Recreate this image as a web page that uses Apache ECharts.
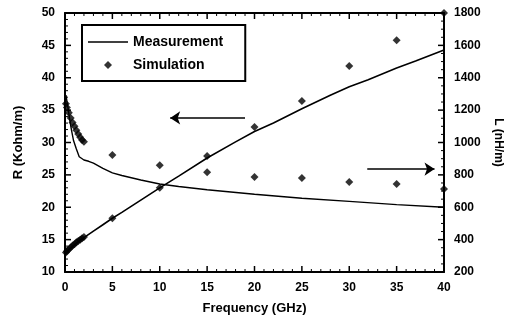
<!DOCTYPE html>
<html>
<head>
<meta charset="utf-8">
<script src="https://cdn.jsdelivr.net/npm/echarts@6/dist/echarts.min.js"></script>
<style>
  html, body { margin: 0; padding: 0; background: #fff; }
  #chart { width: 522px; height: 320px; }
</style>
</head>
<body>
<div id="chart"></div>
<script>
// Measurement, R (left axis, Kohm/m)
const measRFreq = [0, 0.1, 0.3, 0.5, 1, 1.5, 2, 3, 4, 5, 6, 8, 10, 12, 15, 18, 20, 22, 25, 28, 30, 32, 35, 37, 40]
const measR = [12.5, 12.9, 13.3, 13.6, 14.2, 14.8, 15.3, 16.3, 17.3, 18.3, 19.2, 21.1, 23.0, 24.8, 27.6, 30.1, 31.7, 33.0, 35.2, 37.3, 38.6, 39.7, 41.5, 42.6, 44.3]

// Measurement, L (right axis, nH/m)
const measLFreq = [0, 0.1, 0.3, 0.5, 0.7, 0.9, 1.2, 1.5, 2, 2.5, 3, 4, 5, 6, 8, 10, 12, 15, 20, 25, 30, 35, 40]
const measL = [1260, 1292, 1220, 1140, 1072, 1012, 960, 912, 892, 884, 872, 840, 812, 796, 768, 744, 728, 708, 680, 656, 636, 616, 600]

// Simulation, R (left axis)
const simRFreq = [0.1, 0.2, 0.4, 0.6, 0.8, 1.0, 1.2, 1.4, 1.6, 1.8, 2.0, 5, 10, 15, 20, 25, 30, 35, 40]
const simR = [13.0, 13.2, 13.5, 13.8, 14.1, 14.3, 14.6, 14.8, 15.0, 15.2, 15.4, 18.3, 23.0, 27.9, 32.4, 36.4, 41.8, 45.8, 50.0]

// Simulation, L (right axis)
const simLFreq = [0.1, 0.2, 0.4, 0.6, 0.8, 1.0, 1.2, 1.4, 1.6, 1.8, 2.0, 5, 10, 15, 20, 25, 30, 35, 40]
const simL = [1240, 1216, 1184, 1152, 1124, 1100, 1076, 1052, 1032, 1016, 1004, 923, 860, 816, 787, 780, 756, 744, 713]

// arrows pointing to the axis each curve belongs to, in [GHz, R] coords
const arrowLeft = [[19.0, 33.8], [11.1, 33.8]]
const arrowRight = [[31.9, 25.9], [39.0, 25.9]]

const xTicks = { min: 0, max: 40, interval: 5, minor: 5 }
const rTicks = { min: 10, max: 50, interval: 5, minor: 5 }
const lTicks = { min: 200, max: 1800, interval: 200, minor: 4 }

const pairs = (xs, ys) => xs.map((x, i) => [x, ys[i]])

// tick values of an axis: [value, isMajor]
const tickValues = t => {
  const out = []
  const steps = Math.round((t.max - t.min) / t.interval) * t.minor
  for (let i = 0; i <= steps; i++)
    out.push([t.min + i * t.interval / t.minor, i % t.minor === 0])
  return out
}

const font = 'Liberation Sans, Arial, sans-serif'
const black = '#000'
const MAJOR = 6
const MINOR = 3

// the built-in axisTick does not show up in this chart, so the inward ticks
// of the frame are drawn by custom series through the axes' own coord()
const tickLine = (x1, y1, x2, y2, major) => ({
  type: 'line',
  shape: { x1, y1, x2, y2 },
  style: { stroke: black, lineWidth: major ? 1.5 : 1 },
})

const frameTicksR = (params, api) => {
  const children = []
  tickValues(xTicks).forEach(([v, major]) => {
    const len = major ? MAJOR : MINOR
    const b = api.coord([v, rTicks.min])
    const t = api.coord([v, rTicks.max])
    children.push(tickLine(b[0], b[1], b[0], b[1] - len, major))
    children.push(tickLine(t[0], t[1], t[0], t[1] + len, major))
  })
  tickValues(rTicks).forEach(([v, major]) => {
    const len = major ? MAJOR : MINOR
    const p = api.coord([xTicks.min, v])
    children.push(tickLine(p[0], p[1], p[0] + len, p[1], major))
  })
  return { type: 'group', children }
}

const frameTicksL = (params, api) => {
  const children = []
  tickValues(lTicks).forEach(([v, major]) => {
    const len = major ? MAJOR : MINOR
    const p = api.coord([xTicks.max, v])
    children.push(tickLine(p[0], p[1], p[0] - len, p[1], major))
  })
  return { type: 'group', children }
}

const axisBase = {
  axisLine: { show: true, onZero: false, lineStyle: { color: black, width: 2 } },
  axisTick: { show: false },
  minorTick: { show: false },
  splitLine: { show: false },
  axisLabel: { color: black, fontFamily: font, fontWeight: 'bold', fontSize: 12, margin: 10, formatter: v => String(v) },
}

const chart = echarts.init(document.getElementById('chart'), null, { renderer: 'canvas' })

const option = {
  backgroundColor: '#fff',
  animation: false,
  grid: { left: 65, right: 78, top: 13, bottom: 48 },
  legend: {
    left: 82,
    top: 25,
    orient: 'vertical',
    data: [
      { name: 'Measurement', icon: 'path://M0,0 L40,0 L40,1.6 L0,1.6 Z' },
      { name: 'Simulation', icon: 'path://M0,-1 L1,0 L0,1 L-1,0 Z' },
    ],
    itemWidth: 40,
    itemHeight: 8,
    itemGap: 9,
    padding: [10, 22, 9, 6],
    borderColor: black,
    borderWidth: 2,
    textStyle: { color: black, fontFamily: font, fontWeight: 'bold', fontSize: 14 },
  },
  xAxis: [
    {
      ...axisBase,
      type: 'value',
      position: 'bottom',
      min: xTicks.min,
      max: xTicks.max,
      interval: xTicks.interval,
      name: 'Frequency (GHz)',
      nameLocation: 'middle',
      nameGap: 30,
      nameTextStyle: { color: black, fontFamily: font, fontWeight: 'bold', fontSize: 13 },
    },
    {
      ...axisBase,
      type: 'value',
      position: 'top',
      min: xTicks.min,
      max: xTicks.max,
      interval: xTicks.interval,
      axisLabel: { show: false },
    },
  ],
  yAxis: [
    {
      ...axisBase,
      type: 'value',
      position: 'left',
      min: rTicks.min,
      max: rTicks.max,
      interval: rTicks.interval,
      name: 'R (Kohm/m)',
      nameLocation: 'middle',
      nameRotate: 90,
      nameGap: 40,
      nameTextStyle: { color: black, fontFamily: font, fontWeight: 'bold', fontSize: 13 },
    },
    {
      ...axisBase,
      type: 'value',
      position: 'right',
      min: lTicks.min,
      max: lTicks.max,
      interval: lTicks.interval,
      name: 'L (nH/m)',
      nameLocation: 'middle',
      nameRotate: -90,
      nameGap: 48,
      nameTextStyle: { color: black, fontFamily: font, fontWeight: 'bold', fontSize: 12 },
    },
  ],
  series: [
    {
      name: 'Measurement',
      type: 'line',
      xAxisIndex: 0,
      yAxisIndex: 0,
      data: pairs(measRFreq, measR),
      showSymbol: false,
      symbol: 'none',
      color: black,
      lineStyle: { color: black, width: 1.6 },
      markLine: {
        silent: true,
        symbol: ['none', 'arrow'],
        symbolSize: 10,
        label: { show: false },
        lineStyle: { color: black, width: 1.5, type: 'solid' },
        data: [
          [{ coord: arrowLeft[0] }, { coord: arrowLeft[1] }],
          [{ coord: arrowRight[0] }, { coord: arrowRight[1] }],
        ],
      },
    },
    {
      name: 'Measurement L',
      type: 'line',
      xAxisIndex: 0,
      yAxisIndex: 1,
      data: pairs(measLFreq, measL),
      showSymbol: false,
      symbol: 'none',
      color: black,
      lineStyle: { color: black, width: 1.4 },
    },
    {
      name: 'Simulation',
      type: 'scatter',
      xAxisIndex: 0,
      yAxisIndex: 0,
      data: pairs(simRFreq, simR),
      symbol: 'diamond',
      symbolSize: 8,
      color: black,
      clip: false,
    },
    {
      name: 'Simulation L',
      type: 'scatter',
      xAxisIndex: 0,
      yAxisIndex: 1,
      data: pairs(simLFreq, simL),
      symbol: 'diamond',
      symbolSize: 8,
      color: black,
      clip: false,
    },
    {
      type: 'custom',
      xAxisIndex: 0,
      yAxisIndex: 0,
      silent: true,
      clip: false,
      z: 5,
      data: [[xTicks.min, rTicks.min]],
      renderItem: frameTicksR,
    },
    {
      type: 'custom',
      xAxisIndex: 0,
      yAxisIndex: 1,
      silent: true,
      clip: false,
      z: 5,
      data: [[xTicks.max, lTicks.min]],
      renderItem: frameTicksL,
    },
  ],
}

chart.setOption(option)
</script>
</body>
</html>
